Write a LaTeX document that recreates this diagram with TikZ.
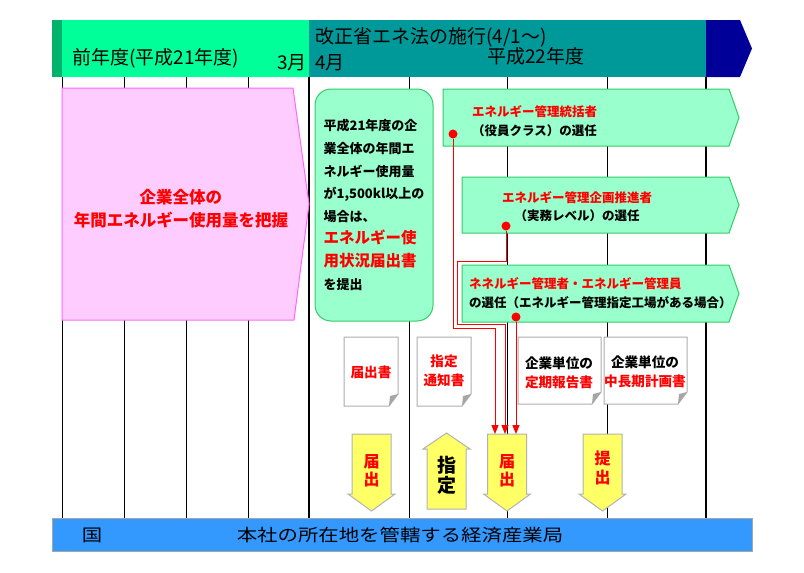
\documentclass[tikz,border=0pt]{standalone}
\usepackage{fontspec}
\setmainfont{Noto Sans CJK JP}
\newfontfamily\widefont[FakeStretch=1.2]{Noto Sans CJK JP}
\usetikzlibrary{arrows.meta,positioning}
\definecolor{deepgreen}{RGB}{0,178,108}
\definecolor{mint}{RGB}{0,255,153}
\definecolor{seateal}{RGB}{0,153,153}
\definecolor{navyblue}{RGB}{0,0,153}
\definecolor{pinkfill}{RGB}{255,204,255}
\definecolor{pinkline}{RGB}{255,102,255}
\definecolor{palegreen}{RGB}{153,255,204}
\definecolor{greenline}{RGB}{51,204,102}
\definecolor{lemon}{RGB}{255,255,102}
\definecolor{skyblue}{RGB}{51,153,255}
\definecolor{alert}{RGB}{255,0,0}
\tikzset{
  >={Triangle[length=9pt,width=7pt]},
  hbar/.style={fill=#1,inner sep=0pt,anchor=north west,minimum height=57pt},
  hlabel/.style={font=\fontsize{19pt}{21pt}\selectfont,inner sep=0pt},
  gridline/.style={draw=black,line width=1pt},
  gridline thick/.style={draw=black,line width=2pt},
  pinkarrow/.style={fill=pinkfill,draw=pinkline,line width=1pt},
  pinktext/.style={text=alert,font=\fontsize{16.5pt}{23pt}\selectfont\bfseries,align=center},
  note/.style={fill=palegreen,draw=greenline,line width=1pt,rounded corners=16pt,align=left,
    font=\fontsize{13pt}{22.6pt}\selectfont\bfseries},
  sigbox/.style={fill=palegreen,draw=greenline,line width=1pt},
  sigtext/.style={font=\fontsize{12.5pt}{18.5pt}\selectfont\bfseries,inner sep=0pt},
  sheetline/.style={fill=white,draw=black!32,line width=1pt},
  sheettext/.style={font=\fontsize{13.6pt}{19pt}\selectfont\bfseries,align=center,inner sep=0pt},
  yarrow/.style={fill=lemon,draw=black!30,line width=1pt},
  arrowtext/.style={text=alert,font=\fontsize{16pt}{18.5pt}\selectfont\bfseries,align=center,inner sep=0pt},
  dot/.style={circle,fill=alert,inner sep=0pt,minimum size=9pt},
  flow/.style={->,draw=alert,line width=1pt},
  % pictograms
  pics/downarrow/.style={code={
    \draw[yarrow] (-19.5,0) -- (19.5,0) -- (19.5,60) -- (23.5,60) -- (0,77) -- (-23.5,60) -- (-19.5,60) -- cycle;
  }},
  pics/uparrow/.style={code={
    \draw[yarrow] (0,0) -- (23.5,16) -- (19.5,16) -- (19.5,76) -- (-19.5,76) -- (-19.5,16) -- (-23.5,16) -- cycle;
  }},
  pics/sheet/.style 2 args={code={
    \draw[sheetline] (0,0) -- (#1,0) -- (#1,#2-12) -- (#1-9,#2) -- (0,#2) -- cycle;
    \fill[black!35] (#1,#2-12) -- (#1-9,#2) -- (#1-8,#2-10) -- cycle;
  }},
}
\begin{document}
\begin{tikzpicture}[x=1pt,y=-1pt]
  \useasboundingbox (0,0) rectangle (804,573);
  % time axis
  \foreach \x in {62,124,186,248,409,507,607}
    \draw[gridline] (\x,77) -- (\x,518);
  \foreach \x in {309,706}
    \draw[gridline thick] (\x,77) -- (\x,518);
  % header
  \node[hbar=deepgreen,minimum width=10pt] (edge) at (52,20) {};
  \node[hbar=mint,minimum width=247pt] (prevbar) at (62,20) {};
  \node[hbar=seateal,minimum width=397pt] (curbar) at (309,20) {};
  \fill[navyblue] (706,20) -- (740,20) -- (752,48.5) -- (740,77) -- (706,77) -- cycle;
  \node[hlabel,anchor=west] (prevyear) at (72,58.5) {前年度(平成21年度)};
  \node[hlabel,anchor=east] (march) at (307,63) {3月};
  \node[hlabel,anchor=west] (april) at (315,62.5) {4月};
  \node[hlabel,anchor=west] (law) at (315,37.5) {改正省エネ法の施行(4/1～)};
  \node[hlabel,anchor=west] (curyear) at (487,56.5) {平成22年度};
  % previous year
  \draw[pinkarrow] (62,88) -- (293,88) -- (309,204) -- (294,320) -- (62,320) -- cycle;
  \node[pinktext] (grasp) at (181,208.5) {企業全体の\\年間エネルギー使用量を把握};
  \node[note,minimum width=118pt,minimum height=232pt] (usage) at (374,205)
    {平成21年度の企\\業全体の年間エ\\ネルギー使用量\\が1,500kl以上の\\場合は、\\
     {\color{alert}\fontsize{15.5pt}{22.6pt}\selectfont エネルギー使}\\
     {\color{alert}\fontsize{15.5pt}{22.6pt}\selectfont 用状況届出書}\\を提出};
  % appointments
  \foreach \l/\t/\b in {443/89/146,462/177/233,462/265/322}
    \draw[sigbox] (\l,\t) -- (729,\t) -- (739,{(\t+\b)/2}) -- (729,\b) -- (\l,\b) -- cycle;
  \node[sigtext,align=center] (chief) at (534.5,121) {\textcolor{alert}{エネルギー管理統括者}\\（役員クラス）の選任};
  \node[sigtext,align=center] (planner) at (577,206.5) {\textcolor{alert}{エネルギー管理企画推進者}\\（実務レベル）の選任};
  \node[sigtext,align=left,anchor=west] (manager) at (469,293) {\textcolor{alert}{ネネルギー管理者・エネルギー管理員}\\の選任（エネルギー管理指定工場がある場合）};
  \node[dot] (dot1) at (453,134) {};
  \node[dot] (dot2) at (506,226) {};
  \node[dot] (dot3) at (516,317) {};
  % documents
  \pic at (344,337) {sheet={54}{69}};
  \pic at (417,337) {sheet={54}{69}};
  \pic at (518,337) {sheet={83}{67}};
  \pic at (604,337) {sheet={83}{67}};
  \node[sheettext,text=alert] (form) at (371,372) {届出書};
  \node[sheettext,text=alert] (notice) at (444,371) {指定\\通知書};
  \node[sheettext] (report) at (559,373) {企業単位の\\\textcolor{alert}{定期報告書}};
  \node[sheettext] (plan) at (645,372) {企業単位の\\\textcolor{alert}{中長期計画書}};
  % submissions
  \pic at (371.5,434) {downarrow};
  \pic at (446.5,433) {uparrow};
  \pic at (507,434) {downarrow};
  \pic at (602.5,434) {downarrow};
  \coordinate (entry) at (507,434);
  \node[arrowtext] (submit1) at (371.5,471) {届\\出};
  \node[arrowtext,text=black,font=\fontsize{19pt}{20pt}\selectfont\bfseries] (designate) at (446.5,475) {指\\定};
  \node[arrowtext] (submit2) at (507,471) {届\\出};
  \node[arrowtext] (submit3) at (602.5,468) {提\\出};
  \draw[flow] (dot1) -- ++(0,194) -| ([xshift=-12pt]entry);
  \draw[flow] (dot2) -- ++(0,35) -| ++(-49,63) -| ([xshift=-2pt]entry);
  \draw[flow] (dot3) -- (dot3 |- entry);
  % authority
  \node[fill=skyblue,draw=black!35,line width=1pt,minimum width=700pt,minimum height=33pt,inner sep=0pt] (bureau) at (402,534.5) {};
  \node[font=\widefont\fontsize{17pt}{19pt}\selectfont,inner sep=0pt] (state) at (92,535) {国};
  \node[font=\widefont\fontsize{17pt}{19pt}\selectfont,inner sep=0pt] (office) at (400,535) {本社の所在地を管轄する経済産業局};
\end{tikzpicture}
\end{document}
